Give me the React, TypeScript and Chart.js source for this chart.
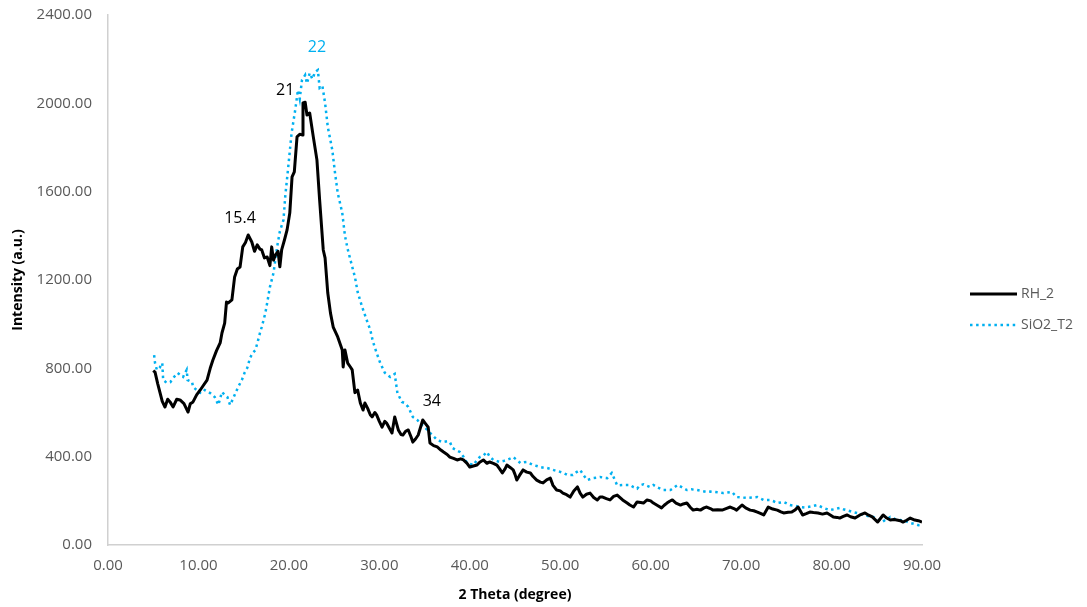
import React, { useEffect, useRef } from "react";
import { Chart, registerables } from "chart.js";

Chart.register(...registerables);

// ---- data ----
const seriesNames = ["RH_2", "SiO2_T2"];

const rhX = [
  5.0, 5.2, 5.5, 5.75, 6.0, 6.3, 6.6, 6.86, 7.2, 7.6, 7.96, 8.4, 8.85, 9.1, 9.4, 9.8, 10.2, 10.5, 10.95, 11.3,
  11.6, 12.0, 12.4, 12.6, 12.9, 13.1, 13.3, 13.7, 14.0, 14.3, 14.6, 14.9, 15.2, 15.5, 15.9, 16.2, 16.5, 16.8, 17.0, 17.3,
  17.6, 17.9, 18.1, 18.3, 18.5, 18.8, 19.0, 19.2, 19.5, 19.8, 20.1, 20.35, 20.6, 20.9, 21.2, 21.45, 21.56, 21.8, 22.0, 22.3,
  22.7, 23.1, 23.4, 23.8, 24.0, 24.3, 24.6, 24.9, 25.4, 25.9, 26.0, 26.2, 26.5, 26.8, 27.0, 27.3, 27.6, 27.9, 28.2, 28.4,
  28.7, 29.0, 29.2, 29.5, 29.7, 30.0, 30.3, 30.6, 30.8, 31.1, 31.4, 31.7, 32.1, 32.4, 32.6, 32.9, 33.2, 33.5, 33.7, 34.0,
  34.3, 34.8, 35.1, 35.4, 35.6, 36.0, 36.4, 36.8, 37.1, 37.5, 37.8, 38.2, 38.6, 39.0, 39.3, 39.7, 40.0, 40.4, 40.8, 41.1,
  41.5, 41.9, 42.2, 42.6, 43.0, 43.3, 43.6, 43.9, 44.1, 44.5, 44.8, 45.0, 45.2, 45.5, 45.9, 46.3, 46.7, 47.0, 47.4, 47.8,
  48.1, 48.5, 48.9, 49.2, 49.6, 50.0, 50.3, 50.7, 51.1, 51.5, 51.9, 52.2, 52.5, 52.9, 53.3, 53.7, 54.1, 54.4, 54.7, 55.1,
  55.5, 55.9, 56.3, 56.9, 57.4, 57.7, 58.1, 58.5, 58.9, 59.2, 59.6, 60.0, 60.3, 60.8, 61.2, 61.5, 61.8, 62.1, 62.4, 62.8,
  63.3, 63.6, 64.0, 64.4, 64.7, 65.1, 65.5, 65.9, 66.2, 66.6, 66.9, 67.4, 67.9, 68.4, 68.8, 69.2, 69.5, 70.1, 70.5, 71.0,
  71.4, 71.8, 72.2, 72.5, 73.0, 73.5, 74.0, 74.4, 74.7, 75.2, 75.6, 76.0, 76.3, 76.8, 77.2, 77.6, 78.0, 78.5, 79.0, 79.5,
  79.9, 80.2, 80.6, 80.9, 81.3, 81.7, 82.1, 82.6, 83.1, 83.7, 84.1, 84.5, 85.1, 85.7, 86.1, 86.5, 86.9, 87.2, 87.6, 87.9,
  88.3, 88.7, 89.2, 89.6, 90.0,
];
const rhY = [
  790, 783, 730, 690, 650, 625, 660, 648, 625, 660, 657, 640, 602, 640, 648, 680, 702, 720, 747, 800,
  838, 880, 915, 960, 1005, 1100, 1096, 1110, 1214, 1250, 1259, 1350, 1370, 1404, 1372, 1330, 1359, 1340, 1336, 1300,
  1304, 1265, 1350, 1290, 1313, 1330, 1260, 1336, 1380, 1427, 1504, 1667, 1690, 1848, 1860, 1857, 2002, 2005, 1947, 1956,
  1848, 1744, 1562, 1336, 1300, 1141, 1050, 987, 942, 883, 806, 883, 824, 806, 793, 690, 702, 643, 611, 643,
  620, 590, 580, 600, 589, 560, 534, 560, 552, 530, 507, 580, 521, 500, 498, 515, 521, 490, 466, 480,
  498, 566, 550, 534, 462, 450, 444, 430, 421, 410, 398, 392, 385, 390, 385, 370, 353, 358, 362, 375,
  385, 370, 376, 370, 362, 345, 326, 345, 362, 350, 340, 320, 294, 315, 340, 330, 326, 310, 294, 285,
  281, 295, 303, 270, 249, 245, 235, 228, 217, 245, 263, 235, 217, 230, 235, 215, 204, 217, 217, 210,
  204, 220, 226, 204, 190, 181, 172, 195, 192, 190, 204, 200, 190, 178, 168, 180, 190, 198, 204, 190,
  181, 186, 190, 170, 158, 162, 158, 168, 172, 165, 158, 160, 158, 166, 172, 165, 158, 181, 168, 158,
  155, 149, 142, 136, 172, 163, 158, 150, 145, 148, 149, 160, 172, 136, 142, 149, 147, 145, 140, 145,
  135, 127, 125, 122, 130, 136, 128, 122, 135, 145, 135, 127, 104, 136, 122, 113, 115, 113, 110, 104,
  112, 122, 113, 110, 104,
];

const siX = [
  5.1, 5.2, 5.4, 5.7, 6.0, 6.1, 6.5, 6.9, 7.2, 7.7, 8.0, 8.3, 8.7, 8.8, 9.3, 9.4, 9.8, 10.1, 10.4, 10.7,
  11.0, 11.3, 11.8, 12.2, 12.6, 12.9, 13.2, 13.5, 13.8, 14.0, 14.4, 14.8, 15.1, 15.4, 15.7, 16.0, 16.3, 16.6, 16.8, 17.0,
  17.4, 17.6, 17.9, 18.3, 18.5, 18.7, 19.0, 19.4, 19.6, 19.9, 20.3, 20.7, 21.0, 21.2, 21.45, 21.8, 22.0, 22.3, 22.6, 22.9,
  23.2, 23.4, 23.7, 24.0, 24.3, 24.8, 25.1, 25.4, 25.9, 26.2, 26.5, 27.0, 27.3, 27.6, 28.1, 28.6, 29.0, 29.3, 29.7, 30.1,
  30.6, 31.2, 31.7, 32.0, 32.5, 32.8, 33.2, 33.7, 34.2, 34.5, 35.0, 35.3, 35.8, 36.4, 37.0, 37.5, 37.8, 38.1, 38.5, 38.9,
  39.3, 39.7, 40.0, 40.4, 40.8, 41.1, 41.5, 41.9, 42.2, 42.6, 43.0, 43.3, 43.7, 44.1, 44.5, 44.8, 45.2, 45.6, 46.0, 46.3,
  47.0, 47.4, 47.8, 48.2, 48.5, 48.9, 49.2, 49.6, 50.0, 50.4, 50.8, 51.4, 51.8, 52.2, 52.6, 53.0, 53.6, 54.0, 54.4, 54.8,
  55.2, 55.7, 56.3, 56.9, 57.4, 57.7, 58.1, 58.5, 58.8, 59.2, 59.6, 59.9, 60.3, 60.8, 61.4, 62.2, 63.0, 63.5, 64.0, 64.5,
  65.1, 65.6, 66.2, 66.6, 67.1, 67.5, 68.0, 68.5, 69.0, 69.5, 70.1, 70.7, 71.2, 71.8, 72.5, 73.2, 73.6, 74.0, 74.7, 75.4,
  75.9, 76.5, 77.0, 77.4, 77.9, 78.4, 79.1, 79.8, 80.3, 80.9, 81.3, 81.7, 82.3, 82.8, 83.2, 83.7, 84.1, 84.6, 85.1, 85.6,
  86.0, 86.5, 87.0, 87.6, 88.2, 88.7, 89.2, 89.6, 90.0,
];
const siY = [
  860, 824, 793, 802, 824, 747, 734, 738, 756, 779, 770, 761, 793, 747, 738, 716, 702, 690, 688, 702,
  695, 688, 670, 634, 693, 680, 670, 634, 660, 679, 716, 747, 780, 802, 847, 870, 883, 928, 960, 987,
  1051, 1096, 1168, 1232, 1291, 1350, 1420, 1472, 1580, 1700, 1866, 1970, 2060, 2020, 2106, 2128, 2090, 2137, 2110, 2142,
  2151, 2070, 2080, 2002, 1893, 1789, 1685, 1594, 1504, 1400, 1340, 1260, 1214, 1146, 1078, 1019, 974, 920, 870, 824,
  780, 761, 775, 688, 648, 643, 625, 580, 566, 552, 534, 521, 500, 475, 466, 470, 466, 439, 430, 421,
  400, 371, 368, 362, 385, 398, 405, 421, 400, 385, 380, 376, 380, 385, 392, 398, 385, 371, 375, 376,
  362, 358, 353, 350, 349, 345, 340, 335, 331, 325, 317, 317, 330, 340, 315, 294, 303, 305, 308, 305,
  303, 326, 270, 272, 272, 272, 262, 255, 270, 275, 268, 263, 272, 260, 249, 249, 272, 260, 249, 252,
  249, 245, 240, 242, 240, 238, 235, 238, 240, 217, 215, 213, 215, 217, 204, 204, 198, 190, 195, 181,
  178, 172, 170, 172, 176, 181, 168, 158, 162, 168, 162, 158, 150, 145, 140, 136, 130, 127, 115, 104,
  115, 127, 118, 113, 108, 100, 95, 90, 92,
];

// peak annotations (text, anchor in data units)
const peakText = ["15.4", "21", "22", "34"];
const peakAtX = [14.6, 19.6, 23.1, 35.8];
const peakAtY = [1481, 2060, 2251, 648];
const peakSeries = [0, 0, 1, 0];

const xTitle = "2 Theta (degree)";
const yTitle = "Intensity (a.u.)";

// ---- styles ----
const FONT = '"Open Sans", "Liberation Sans", sans-serif';
const COLORS = ["#000000", "#00B0F0"];
const TICK_COLOR = "#595959";

const overlayPlugin = {
  id: "overlay",
  afterDatasetsDraw(chart: any) {
    const { ctx, scales, chartArea } = chart;
    const xs = scales.x;
    const ys = scales.y;
    ctx.save();
    ctx.font = `16px ${FONT}`;
    ctx.textAlign = "center";
    ctx.textBaseline = "middle";
    peakText.forEach((t, i) => {
      ctx.fillStyle = COLORS[peakSeries[i]];
      ctx.fillText(t, xs.getPixelForValue(peakAtX[i]), ys.getPixelForValue(peakAtY[i]));
    });

    // legend
    const lx = chartArea.right + 48;
    const rows = [294, 325];
    ctx.font = `14px ${FONT}`;
    ctx.textAlign = "left";
    rows.forEach((ry, i) => {
      ctx.beginPath();
      ctx.strokeStyle = COLORS[i];
      if (i === 0) {
        ctx.lineWidth = 3;
        ctx.setLineDash([]);
      } else {
        ctx.lineWidth = 2.5;
        ctx.setLineDash([2.5, 3.6]);
      }
      ctx.moveTo(lx, ry);
      ctx.lineTo(lx + 47, ry);
      ctx.stroke();
      ctx.setLineDash([]);
      ctx.fillStyle = TICK_COLOR;
      ctx.fillText(seriesNames[i], lx + 51, ry);
    });
    ctx.restore();
  },
};

export default function App() {
  const ref = useRef<HTMLCanvasElement | null>(null);

  useEffect(() => {
    document.body.style.margin = "0";
    const canvas = ref.current;
    if (!canvas) return;
    const rh = rhX.map((x, i) => ({ x, y: rhY[i] }));
    const si = siX.map((x, i) => ({ x, y: siY[i] }));
    const chart = new Chart(canvas, {
      type: "line",
      data: {
        datasets: [
          {
            label: seriesNames[0],
            data: rh,
            borderColor: COLORS[0],
            borderWidth: 3,
            pointRadius: 0,
            tension: 0,
            borderJoinStyle: "round",
          },
          {
            label: seriesNames[1],
            data: si,
            borderColor: COLORS[1],
            borderWidth: 2.5,
            borderDash: [2.5, 3.6],
            pointRadius: 0,
            tension: 0,
          },
        ],
      },
      options: {
        responsive: false,
        animation: false,
        parsing: false,
        layout: { padding: { left: 0, right: 165, top: 15, bottom: 0 } },
        plugins: {
          legend: { display: false },
          tooltip: { enabled: false },
        },
        scales: {
          x: {
            type: "linear",
            min: 0,
            max: 90,
            ticks: {
              stepSize: 10,
              padding: 12,
              color: TICK_COLOR,
              font: { family: FONT, size: 15 },
              callback: (v: any) => Number(v).toFixed(2),
            },
            grid: { display: false, drawTicks: false },
            border: { display: true, color: "#D0D0D0", width: 1.5 },
            title: {
              display: true,
              text: xTitle,
              color: "#000",
              font: { family: FONT, size: 14, weight: "bold" },
              padding: { top: 0, bottom: 4 },
            },
            afterFit: (s: any) => {
              s.height = 62;
            },
          },
          y: {
            type: "linear",
            min: 0,
            max: 2400,
            ticks: {
              stepSize: 400,
              padding: 16,
              color: TICK_COLOR,
              font: { family: FONT, size: 15 },
              callback: (v: any) => Number(v).toFixed(2),
            },
            grid: { display: false, drawTicks: false },
            border: { display: true, color: "#D0D0D0", width: 1.5 },
            title: {
              display: true,
              text: yTitle,
              color: "#000",
              font: { family: FONT, size: 14, weight: "bold" },
              padding: { top: 10, bottom: 0 },
            },
            afterFit: (s: any) => {
              s.width = 108;
              s.paddingTop = 0;
              s.paddingBottom = 0;
            },
          },
        },
      } as any,
      plugins: [overlayPlugin],
    });
    return () => chart.destroy();
  }, []);

  return (
    <div style={{ width: 1087, height: 607 }}>
      <canvas ref={ref} width={1087} height={607} style={{ display: "block" }} />
    </div>
  );
}
